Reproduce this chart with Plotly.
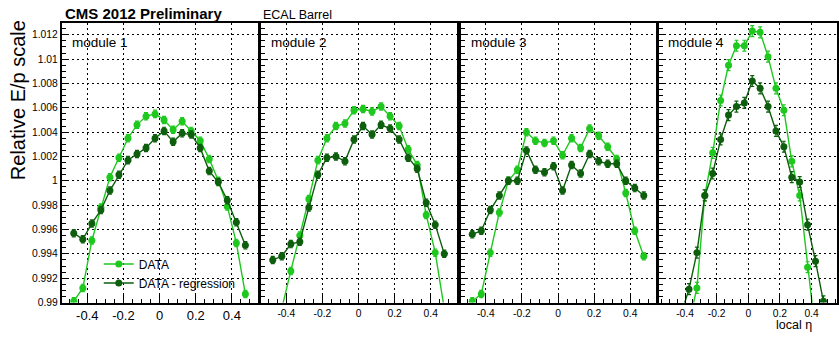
import plotly.graph_objects as go

W, H = 839, 338

# ---------------- data ----------------
eta = [-0.475, -0.425, -0.375, -0.325, -0.275, -0.225, -0.175, -0.125, -0.075, -0.025,
       0.025, 0.075, 0.125, 0.175, 0.225, 0.275, 0.325, 0.375, 0.425, 0.475]

data_m1 = [0.9901, 0.9912, 0.9951, 0.9978, 1.0003, 1.0019, 1.0035, 1.0046, 1.0053, 1.0055,
           1.0050, 1.0042, 1.0049, 1.0041, 1.0033, 1.0018, 1.0000, 0.9979, 0.9949, 0.9907]
reg_m1 = [0.9957, 0.9952, 0.9965, 0.9976, 0.9992, 1.0005, 1.0017, 1.0022, 1.0027, 1.0035,
          1.0041, 1.0032, 1.0039, 1.0038, 1.0027, 1.0008, 0.9999, 0.9984, 0.9966, 0.9947]

data_m2 = [0.9880, 0.9895, 0.9926, 0.9955, 0.9985, 1.0017, 1.0035, 1.0045, 1.0047, 1.0058,
           1.0059, 1.0057, 1.0061, 1.0053, 1.0045, 1.0026, 1.0013, 0.9972, 0.9941, 0.9895]
reg_m2 = [0.9935, 0.9938, 0.9948, 0.9950, 0.9978, 1.0005, 1.0019, 1.0020, 1.0016, 1.0034,
          1.0045, 1.0038, 1.0046, 1.0043, 1.0034, 1.0019, 1.0010, 0.9982, 0.9964, 0.9940]

data_m3 = [0.9901, 0.9907, 0.9941, 0.9974, 1.0000, 1.0009, 1.0040, 1.0033, 1.0031, 1.0033,
           1.0021, 1.0035, 1.0027, 1.0043, 1.0037, 1.0028, 1.0018, 0.9990, 0.9959, 0.9938]
reg_m3 = [0.9956, 0.9959, 0.9976, 0.9988, 1.0000, 1.0000, 1.0025, 1.0009, 1.0007, 1.0012,
          0.9992, 1.0013, 1.0006, 1.0022, 1.0016, 1.0014, 1.0014, 1.0000, 0.9994, 0.9988]

data_m4 = [0.9850, 0.9860, 0.9883, 0.9912, 0.9988, 1.0023, 1.0066, 1.0095, 1.0111, 1.0111,
           1.0123, 1.0122, 1.0102, 1.0076, 1.0058, 1.0016, 0.9988, 0.9929, 0.9875, 0.9840]
reg_m4 = [0.9870, 0.9891, 0.9911, 0.9941, 0.9988, 1.0006, 1.0034, 1.0054, 1.0061, 1.0064,
          1.0082, 1.0076, 1.0061, 1.0041, 1.0028, 1.0003, 0.9999, 0.9964, 0.9934, 0.9901]

# estimated statistical uncertainty per module
err_m = [0.0003, 0.0003, 0.0003, 0.00045]

modules = ["module 1", "module 2", "module 3", "module 4"]
series_names = ["DATA", "DATA - regression"]

y_tickvals = [0.99, 0.992, 0.994, 0.996, 0.998, 1.0, 1.002, 1.004, 1.006, 1.008, 1.01, 1.012]
y_ticktext = ["0.99", "0.992", "0.994", "0.996", "0.998", "1", "1.002", "1.004",
              "1.006", "1.008", "1.01", "1.012"]
x_tickvals = [-0.4, -0.2, 0.0, 0.2, 0.4]
x_ticktext = ["-0.4", "-0.2", "0", "0.2", "0.4"]

data_sets = [data_m1, data_m2, data_m3, data_m4]
reg_sets = [reg_m1, reg_m2, reg_m3, reg_m4]

# ---------------- style ----------------
FONT = "Liberation Sans, Arial, Helvetica, sans-serif"
C_DATA = "#1ec81e"
C_REG = "#0d5e0d"


def px(x):
    return x / W


def py(y):
    return 1 - y / H


# panel geometry (pixels)
x_dom = [(62, 259), (262, 458), (462, 658), (661, 839)]
x_rng = [(-0.541, 0.547), (-0.538, 0.545), (-0.538, 0.545), (-0.562, 0.561)]
y_top, y_bot = 23, 308
x_tickfont = [13, 10.3, 10.3, 10.3]

fig = go.Figure()

for i in range(4):
    sfx = "" if i == 0 else str(i + 1)
    for vals, col, name in [(data_sets[i], C_DATA, series_names[0]),
                            (reg_sets[i], C_REG, series_names[1])]:
        fig.add_trace(go.Scatter(
            x=eta, y=vals, name=name,
            mode="lines+markers",
            line=dict(color=col, width=1.4),
            marker=dict(color=col, size=7, symbol="circle"),
            error_y=dict(type="constant", value=err_m[i], color=col,
                         thickness=1.2, width=2),
            xaxis="x" + sfx, yaxis="y" + sfx,
            showlegend=(i == 0),
        ))

layout = dict(
    width=W, height=H,
    margin=dict(l=0, r=0, t=0, b=0),
    paper_bgcolor="white", plot_bgcolor="white",
    font=dict(family=FONT, color="black"),
    legend=dict(x=px(99), y=py(254), xanchor="left", yanchor="top",
                bgcolor="rgba(0,0,0,0)", font=dict(size=12, family=FONT),
                tracegroupgap=0, itemwidth=30),
    annotations=[],
)

for i in range(4):
    sfx = "" if i == 0 else str(i + 1)
    layout["xaxis" + sfx] = dict(
        domain=[px(x_dom[i][0]), px(x_dom[i][1])],
        range=list(x_rng[i]),
        anchor="y" + sfx,
        showline=True, linecolor="black", linewidth=2, mirror=True,
        ticks="inside", ticklen=8, tickcolor="black", tickwidth=1,
        tickmode="array", tickvals=x_tickvals, ticktext=x_ticktext,
        tickfont=dict(size=x_tickfont[i], family=FONT),
        showgrid=True, gridcolor="black", gridwidth=1, griddash="2px,3px",
        zeroline=False,
        minor=dict(dtick=0.05, tick0=0, ticks="inside", ticklen=4,
                   tickcolor="black", showgrid=False),
    )
    layout["yaxis" + sfx] = dict(
        domain=[py(y_bot), py(y_top)],
        range=[0.99, 1.013],
        anchor="x" + sfx,
        showline=True, linecolor="black", linewidth=2, mirror=True,
        ticks="inside", ticklen=7, tickcolor="black", tickwidth=1,
        tickmode="array", tickvals=y_tickvals, ticktext=y_ticktext,
        showticklabels=(i == 0),
        tickfont=dict(size=10.3, family=FONT),
        showgrid=True, gridcolor="black", gridwidth=1, griddash="2px,3px",
        zeroline=False,
        minor=dict(dtick=0.0005, tick0=0.99, ticks="inside", ticklen=4,
                   tickcolor="black", showgrid=False),
    )

ann = layout["annotations"]
ann.append(dict(text="<b>CMS 2012 Preliminary</b>", x=px(63), y=py(14),
                xref="paper", yref="paper", xanchor="left", yanchor="middle",
                showarrow=False, font=dict(size=15, family=FONT)))
ann.append(dict(text="ECAL Barrel", x=px(262), y=py(15),
                xref="paper", yref="paper", xanchor="left", yanchor="middle",
                showarrow=False, font=dict(size=12.5, family=FONT)))
for i, xl in enumerate([70, 270, 470, 668]):
    ann.append(dict(text=modules[i], x=px(xl), y=py(43),
                    xref="paper", yref="paper", xanchor="left", yanchor="middle",
                    showarrow=False, font=dict(size=13.5, family=FONT)))
ann.append(dict(text="Relative E/p scale", x=px(18), y=py(102), textangle=-90,
                xref="paper", yref="paper", xanchor="center", yanchor="middle",
                showarrow=False, font=dict(size=20, family=FONT)))
ann.append(dict(text="local η", x=px(816), y=py(331),
                xref="paper", yref="paper", xanchor="right", yanchor="middle",
                showarrow=False, font=dict(size=12.5, family=FONT)))

fig.update_layout(**layout)
fig.write_html("out.html")
